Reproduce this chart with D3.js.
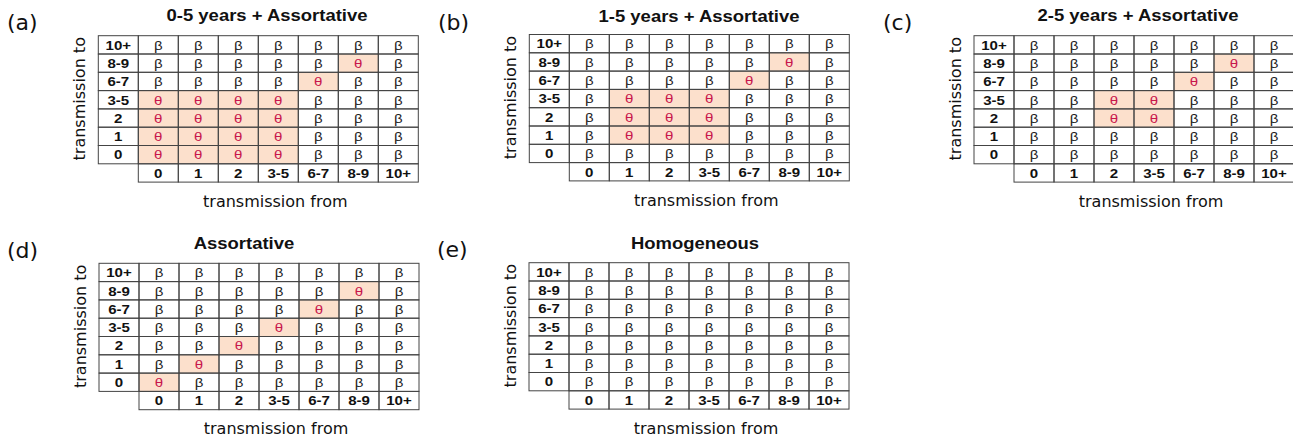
<!DOCTYPE html>
<html>
<head>
<meta charset="utf-8">
<script src="https://cdn.jsdelivr.net/npm/d3@7"></script>
<style>
  html, body { margin: 0; padding: 0; background: #fff; }
  svg { display: block; }
</style>
</head>
<body>
<div id="chart"></div>
<script>
// age groups used for both axes (from = columns, to = rows)
const ageGroups = ["0", "1", "2", "3-5", "6-7", "8-9", "10+"];

const panelTags = ["(a)", "(b)", "(c)", "(d)", "(e)"];
const panelTitles = [
  "0-5 years + Assortative",
  "1-5 years + Assortative",
  "2-5 years + Assortative",
  "Assortative",
  "Homogeneous"
];

// groups mixing with each other at rate theta (block)
const blockGroups = [
  ["0", "1", "2", "3-5"],
  ["1", "2", "3-5"],
  ["2", "3-5"],
  [],
  []
];
// groups mixing with themselves at rate theta (diagonal)
const diagonalGroups = [
  ["6-7", "8-9"],
  ["6-7", "8-9"],
  ["6-7", "8-9"],
  ["0", "1", "2", "3-5", "6-7", "8-9"],
  []
];

const cellLabels = { high: "θ", base: "β" };
const xTitle = "transmission from";
const yTitle = "transmission to";

// layout of each panel (grid origin, title centre, tag position)
const layout = [
  { gx: 98.3, gy: 35.7, tx: 267, ty: 20.5, lx: 7, ly: 30 },
  { gx: 529.3, gy: 34.5, tx: 699, ty: 21.5, lx: 438, ly: 30 },
  { gx: 974, gy: 35.7, tx: 1138, ty: 20.7, lx: 883, ly: 30 },
  { gx: 99, gy: 263.3, tx: 244, ty: 248.5, lx: 7, ly: 258 },
  { gx: 529, gy: 262.7, tx: 695, ty: 248.5, lx: 437, ly: 257 }
];

const W = 1293, H = 441;
const cellW = 40, cellH = 18.3;
const stretch = 1.14; // the original text is a bit wider than Arial

const svg = d3.select("#chart").append("svg")
  .attr("width", W)
  .attr("height", H);

const x = d3.scaleBand()
  .domain(["label", ...ageGroups])
  .range([0, cellW * 8]);

const y = d3.scaleBand()
  .domain([...ageGroups].reverse().concat(["axis"]))
  .range([0, cellH * 8]);

const isTheta = (p, from, to) =>
  (blockGroups[p].includes(from) && blockGroups[p].includes(to)) ||
  (from === to && diagonalGroups[p].includes(from));

const centre = (col, row) =>
  `translate(${x(col) + x.bandwidth() / 2},${y(row) + y.bandwidth() / 2}) scale(${stretch},1)`;

panelTitles.forEach((title, p) => {
  const L = layout[p];

  svg.append("text")
    .attr("x", L.lx)
    .attr("y", L.ly)
    .style("font-family", "DejaVu Sans")
    .style("font-size", "22px")
    .attr("fill", "#111")
    .text(panelTags[p]);

  svg.append("text")
    .attr("transform", `translate(${L.tx},${L.ty}) scale(${stretch},1)`)
    .attr("text-anchor", "middle")
    .style("font-family", "Liberation Sans, Arial")
    .style("font-weight", "bold")
    .style("font-size", "16.2px")
    .attr("fill", "#111")
    .text(title);

  const g = svg.append("g")
    .attr("transform", `translate(${L.gx},${L.gy})`);

  // body cells
  const cells = [];
  ageGroups.forEach(to => {
    ageGroups.forEach(from => {
      cells.push({ from, to, theta: isTheta(p, from, to) });
    });
  });

  g.selectAll("rect.cell")
    .data(cells)
    .enter().append("rect")
    .attr("class", "cell")
    .attr("x", d => x(d.from))
    .attr("y", d => y(d.to))
    .attr("width", x.bandwidth())
    .attr("height", y.bandwidth())
    .attr("fill", d => d.theta ? "#fce0cc" : "#fff");

  g.selectAll("text.cell")
    .data(cells)
    .enter().append("text")
    .attr("class", "cell")
    .attr("transform", d => centre(d.from, d.to))
    .attr("dy", "0.36em")
    .attr("text-anchor", "middle")
    .style("font-family", "Liberation Sans, Arial")
    .style("font-size", "13.2px")
    .attr("fill", d => d.theta ? "#c8174d" : "#222")
    .text(d => d.theta ? cellLabels.high : cellLabels.base);

  // header cells
  const headers = ageGroups.map(a => ({ col: "label", row: a, text: a }))
    .concat(ageGroups.map(a => ({ col: a, row: "axis", text: a })));

  g.selectAll("rect.head")
    .data(headers)
    .enter().append("rect")
    .attr("class", "head")
    .attr("x", d => x(d.col))
    .attr("y", d => y(d.row))
    .attr("width", x.bandwidth())
    .attr("height", y.bandwidth())
    .attr("fill", "#fff");

  g.selectAll("text.head")
    .data(headers)
    .enter().append("text")
    .attr("class", "head")
    .attr("transform", d => centre(d.col, d.row))
    .attr("dy", "0.36em")
    .attr("text-anchor", "middle")
    .style("font-family", "Liberation Sans, Arial")
    .style("font-weight", "bold")
    .style("font-size", "13.2px")
    .attr("fill", "#111")
    .text(d => d.text);

  // grid borders drawn on top
  g.selectAll("rect.border")
    .data(cells.concat(headers.map(h => ({ from: h.col, to: h.row }))))
    .enter().append("rect")
    .attr("class", "border")
    .attr("x", d => x(d.from))
    .attr("y", d => y(d.to))
    .attr("width", x.bandwidth())
    .attr("height", y.bandwidth())
    .attr("fill", "none")
    .attr("stroke", "#444")
    .attr("stroke-width", 1);

  g.append("text")
    .attr("x", 177)
    .attr("y", 171)
    .attr("text-anchor", "middle")
    .style("font-family", "DejaVu Sans")
    .style("font-size", "16px")
    .attr("fill", "#111")
    .text(xTitle);

  g.append("text")
    .attr("transform", `translate(-13.5,${cellH * 7 / 2 - 1}) rotate(-90)`)
    .attr("text-anchor", "middle")
    .style("font-family", "DejaVu Sans")
    .style("font-size", "16px")
    .attr("fill", "#111")
    .text(yTitle);
});
</script>
</body>
</html>
